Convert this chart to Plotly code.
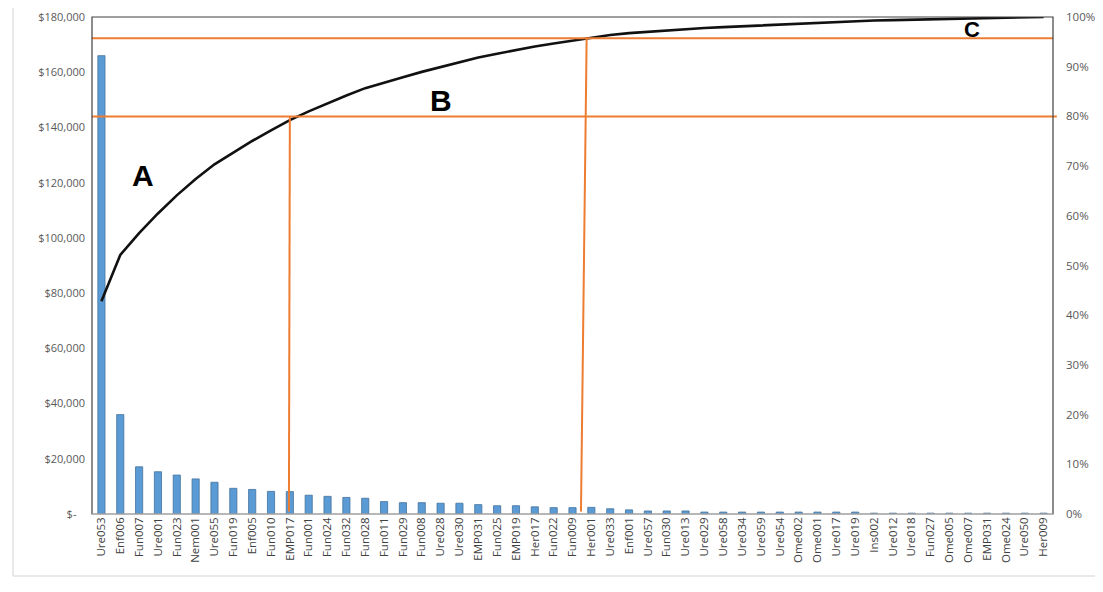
import numpy as np
import plotly.graph_objects as go

categories = ["Ure053", "Enf006", "Fun007", "Ure001", "Fun023", "Nem001", "Ure055", "Fun019",
              "Enf005", "Fun010", "EMP017", "Fun001", "Fun024", "Fun032", "Fun028", "Fun011",
              "Fun029", "Fun008", "Ure028", "Ure030", "EMP031", "Fun025", "EMP019", "Her017",
              "Fun022", "Fun009", "Her001", "Ure033", "Enf001", "Ure057", "Fun030", "Ure013",
              "Ure029", "Ure058", "Ure034", "Ure059", "Ure054", "Ome002", "Ome001", "Ure017",
              "Ure019", "Ins002", "Ure012", "Ure018", "Fun027", "Ome005", "Ome007", "EMP031",
              "Ome024", "Ure050", "Her009"]

costs = [166000, 36000, 17100, 15300, 14100, 12700, 11500, 9300,
         8900, 8200, 8100, 6800, 6400, 6000, 5700, 4500,
         4100, 4100, 3900, 3900, 3400, 3000, 3000, 2600,
         2300, 2300, 2400, 1900, 1500, 1100, 1100, 1100,
         700, 700, 700, 700, 700, 700, 700, 700,
         700, 300, 300, 300, 300, 300, 300, 300,
         300, 300, 300]

left_tickvals = [0, 20000, 40000, 60000, 80000, 100000, 120000, 140000, 160000, 180000]
left_ticktext = ["$-\u00a0\u00a0\u00a0", "$20,000", "$40,000", "$60,000", "$80,000",
                 "$100,000", "$120,000", "$140,000", "$160,000", "$180,000"]

threshold_b = 0.80     # A/B boundary
threshold_c = 0.957    # B/C boundary
cut_b = 10             # index of EMP017
cut_c = 25.6           # between Fun009 and Her001

zone_labels = ["A", "B", "C"]
zone_x = [2.2, 18.0, 46.2]
zone_y = [0.682, 0.833, 0.975]
zone_size = [30, 30, 22]

x = list(range(len(categories)))
cum = np.cumsum(costs) / np.sum(costs)

fig = go.Figure()
fig.add_trace(go.Bar(
    x=x, y=costs, width=0.38,
    marker=dict(color="#5B9BD5", line=dict(color="#41719C", width=0.8)),
    yaxis="y", showlegend=False))
fig.add_trace(go.Scatter(
    x=x, y=cum, mode="lines", line=dict(color="#111111", width=2.6),
    yaxis="y2", showlegend=False))

orange = "#ED7D31"
shapes = [
    dict(type="line", xref="x domain", yref="y2", x0=0, x1=1.004, y0=threshold_b, y1=threshold_b,
         line=dict(color=orange, width=2)),
    dict(type="line", xref="x domain", yref="y2", x0=0, x1=1.0, y0=threshold_c, y1=threshold_c,
         line=dict(color=orange, width=2)),
    dict(type="line", xref="x", yref="y2", x0=cut_b, x1=cut_b - 0.05, y0=threshold_b, y1=0.005,
         line=dict(color=orange, width=2)),
    dict(type="line", xref="x", yref="y2", x0=cut_c + 0.15, x1=cut_c - 0.15, y0=threshold_c, y1=0.005,
         line=dict(color=orange, width=2)),
    dict(type="rect", xref="x domain", yref="y domain", x0=0, x1=1, y0=0, y1=1,
         line=dict(color="#404040", width=1.2), layer="above"),
    dict(type="line", xref="x domain", yref="y domain", x0=0, x1=1, y0=0, y1=0,
         line=dict(color="#D0D0D0", width=1.2), layer="above"),
    # light card border of the screenshot
    dict(type="line", xref="paper", yref="paper", x0=-0.0822, x1=-0.0822, y0=-0.1247, y1=1.03,
         line=dict(color="#E2E2E2", width=1.5)),
    dict(type="line", xref="paper", yref="paper", x0=-0.0822, x1=1.06, y0=-0.1247, y1=-0.1247,
         line=dict(color="#E2E2E2", width=1.5)),
]

annotations = []
for lab, zx, zy, zs in zip(zone_labels, zone_x, zone_y, zone_size):
    annotations.append(dict(x=zx, y=zy, xref="x", yref="y2", text="<b>%s</b>" % lab,
                            showarrow=False, font=dict(family="Liberation Sans", size=zs, color="#000000")))

fig.update_layout(
    width=1087, height=576,
    margin=dict(l=84, r=42, t=9, b=70, autoexpand=False),
    paper_bgcolor="white", plot_bgcolor="white",
    xaxis=dict(range=[-0.5, len(categories) - 0.5], tickmode="array", tickvals=x, ticktext=categories,
               tickangle=-90, tickfont=dict(family="Open Sans", size=11.5, color="#404040"),
               showgrid=False, zeroline=False, showline=False, ticks="", automargin=False),
    yaxis=dict(range=[0, 180000], tickmode="array", tickvals=left_tickvals, ticktext=left_ticktext,
               tickfont=dict(family="Open Sans", size=11, color="#595959"), automargin=False,
               showgrid=False, zeroline=False, showline=False, ticks="", ticklabelstandoff=6),
    yaxis2=dict(range=[0, 1], overlaying="y", side="right", tickformat=".0%", dtick=0.1,
                tickfont=dict(family="Open Sans", size=11.5, color="#595959"), automargin=False,
                showgrid=False, zeroline=False, showline=False, ticks="", ticklabelstandoff=12),
    shapes=shapes, annotations=annotations,
    font=dict(family="Open Sans"),
)

fig.write_html("out.html")
